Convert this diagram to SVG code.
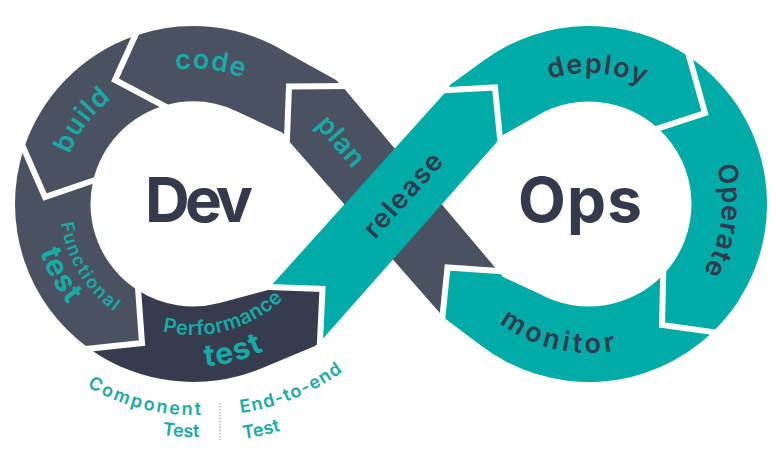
<svg xmlns="http://www.w3.org/2000/svg" width="780" height="457" viewBox="0 0 780 457">
<defs>
<style>
.gray{fill:#4a5161}
.navy{fill:#363b4d}
.teal{fill:#00aba8}
.gap{fill:none;stroke:#ffffff;stroke-width:6;stroke-miterlimit:10}
text{font-family:Inter,"Noto Sans","DejaVu Sans",sans-serif}
.lt{fill:#17aba6;font-weight:600}
.dk{fill:#343a4c;font-weight:600}
.bold{font-weight:700}
.big{fill:#343a4c;font-weight:700;font-size:62px}
</style>
<path id="p-code" d="M104.3,101.6 A135.5,135.5 0 0 1 304.1,126.5"/>
<path id="p-build" d="M62.4,229.4 A133,133 0 0 1 181.4,71.5"/>
<path id="p-func" d="M65.8,165.1 A132,132 0 0 0 167.6,334.6"/>
<path id="p-ftest" d="M42.4,149.3 A160,160 0 0 0 154.3,359.2"/>
<path id="p-perf" d="M121.7,313.9 A131,131 0 0 0 309.7,263.5"/>
<path id="p-ptest" d="M104.2,340.7 A163,163 0 0 0 338.2,278"/>
<path id="p-comp" d="M6.7,303.1 A211,211 0 0 0 311,378.9"/>
<path id="p-ctest" d="M11.9,350.6 A233,233 0 0 0 357.8,368.8"/>
<path id="p-e2e" d="M111.4,392.2 A225,225 0 0 0 421.4,267"/>
<path id="p-etest" d="M62.4,393 A251,251 0 0 0 427.4,315.5"/>
<path id="p-deploy" d="M497.2,110.6 A131,131 0 0 1 691.5,122.5"/>
<path id="p-operate" d="M689.4,116.7 A133,133 0 0 1 665.3,313"/>
<path id="p-monitor" d="M458.2,275.3 A149,149 0 0 0 673.6,326.6"/>
</defs>
<rect width="780" height="457" fill="#ffffff"/>

<g id="build">
<path class="gray" d="M23.8,148.7 A178,178 0 0 1 135.05,35.7 L115,80 L163.72,105.77 A102.5,102.5 0 0 0 93.2,180.6 L45,197 Z"/>
<text class="lt" font-size="27"><textPath href="#p-build" startOffset="50%" text-anchor="middle" textLength="70">build</textPath></text>
</g>
<g id="code">
<path class="gray" d="M135.05,35.7 A178,178 0 0 1 285.5,51.9 L336,80 L342,86 L289,86.5 L287,139 L283,133 L236.5,111.2 A102.5,102.5 0 0 0 163.72,105.77 L115,80 Z"/>
<text class="lt" font-size="27"><textPath href="#p-code" startOffset="50%" text-anchor="middle" textLength="68">code</textPath></text>
</g>
<g id="functional-test">
<path class="gray" d="M23.8,148.7 L45,197 L93.2,180.6 A102.5,102.5 0 0 0 138.2,290.6 L142,343 L89.4,348.7 A178,178 0 0 1 23.8,148.7 Z"/>
<text class="lt" font-size="18"><textPath href="#p-func" startOffset="50%" text-anchor="middle" textLength="106">Functional</textPath></text>
<text class="lt bold" font-size="30"><textPath href="#p-ftest" startOffset="50%" text-anchor="middle" textLength="60">test</textPath></text>
</g>
<g id="performance-test">
<path class="navy" d="M89.4,348.7 L142,343 L138.2,290.6 A102.5,102.5 0 0 0 219.5,303 L268,290 L270,287 L322.5,289 L320,342 L315,346 L261.7,368.2 A178,178 0 0 1 89.4,348.7 Z"/>
<text class="lt" font-size="20"><textPath href="#p-perf" startOffset="50%" text-anchor="middle" textLength="130">Performance</textPath></text>
<text class="lt bold" font-size="30"><textPath href="#p-ptest" startOffset="50%" text-anchor="middle" textLength="61">test</textPath></text>
</g>
<g id="deploy">
<path class="teal" d="M447.5,90 L495,87.5 L500,138.5 L503,135 L538.4,114.9 A102.5,102.5 0 0 1 658.1,128.3 L705,113 L689.3,57 A178,178 0 0 0 484.4,60 L450,85 Z"/>
<text class="dk" font-size="27"><textPath href="#p-deploy" startOffset="50%" text-anchor="middle" textLength="96">deploy</textPath></text>
</g>
<g id="operate">
<path class="teal" d="M689.3,57 A178,178 0 0 1 712.7,332 L662,325 L663.2,274.7 A102.5,102.5 0 0 0 658.1,128.3 L705,113 Z"/>
<text class="dk" font-size="27"><textPath href="#p-operate" startOffset="50%" text-anchor="middle" textLength="110">Operate</textPath></text>
</g>
<g id="monitor">
<path class="teal" d="M712.7,332 A178,178 0 0 1 480.6,345.2 L447,320 L442.5,316 L447.5,267.5 L498,271 L503,277 L539.8,293.9 A102.5,102.5 0 0 0 663.2,274.7 L662,325 Z"/>
<text class="dk" font-size="27"><textPath href="#p-monitor" startOffset="50%" text-anchor="middle" textLength="123">monitor</textPath></text>
</g>
<g id="plan">
<path class="gray" d="M342,86 L289,86.5 L287,139 L442.5,316 L447.5,267.5 L498,271 Z"/>
<text class="lt" font-size="27" transform="translate(339.5,142.5) rotate(49.5)" x="0" y="7" text-anchor="middle" textLength="58">plan</text>
</g>
<g id="release">
<path class="teal" d="M270,287 L447.5,90 L495,87.5 L500,138.5 L320,342 L322.5,289 Z"/>
<text class="dk" font-size="27" transform="translate(403,195) rotate(-48)" x="0" y="9" text-anchor="middle" textLength="104">release</text>
</g>

<g id="connectors">
<path class="gap" d="M350,86 L289,86.5 L286.7,146"/>
<path class="gap" d="M138.4,28.4 L115,80 L170.8,109.5"/>
<path class="gap" d="M20.6,141.4 L45,197 L100.8,178"/>
<path class="gap" d="M81.4,349.6 L142,343 L137.6,282.6"/>
<path class="gap" d="M262,286.7 L322.5,289 L319.6,350"/>
<path class="gap" d="M439.5,90.4 L495,87.5 L500.8,146.5"/>
<path class="gap" d="M687.1,49.3 L705,113 L650.5,130.8"/>
<path class="gap" d="M720.6,333.1 L662,325 L663.4,266.7"/>
<path class="gap" d="M506,271.6 L447.5,267.5 L441.7,324"/>
<line x1="220" y1="403" x2="220" y2="440" stroke="#9a9a9a" stroke-width="1" stroke-dasharray="1.5 1.5"/>
</g>

<g id="dev"><text class="big" x="145" y="222" textLength="108">Dev</text></g>
<g id="ops"><text class="big" x="518" y="222" textLength="124">Ops</text></g>

<g id="component-test">
<text class="lt" font-size="18"><textPath href="#p-comp" startOffset="50%" text-anchor="middle" textLength="119">Component</textPath></text>
<text class="lt" font-size="18"><textPath href="#p-ctest" startOffset="50%" text-anchor="middle" textLength="37">Test</textPath></text>
</g>
<g id="end-to-end-test">
<text class="lt" font-size="18"><textPath href="#p-e2e" startOffset="50%" text-anchor="middle" textLength="111">End-to-end</textPath></text>
<text class="lt" font-size="18"><textPath href="#p-etest" startOffset="50%" text-anchor="middle" textLength="38">Test</textPath></text>
</g>
</svg>
